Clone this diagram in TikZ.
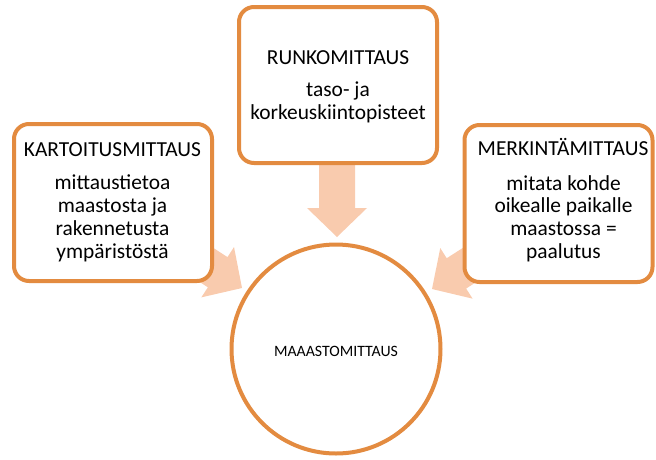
\documentclass[tikz,border=0pt]{standalone}
\usepackage{fontspec}
\setmainfont{Carlito}
\definecolor{boxorange}{HTML}{E38B40}
\definecolor{arrowfill}{HTML}{F9CBAE}
\begin{document}
\begin{tikzpicture}[x=1pt,y=-1pt,
  box/.style={draw=boxorange, line width=4pt, rounded corners=15pt, fill=white, inner sep=0pt},
  hub/.style={circle, draw=boxorange, line width=4pt, fill=white, inner sep=0pt, minimum size=209pt},
  title/.style={font=\fontsize{21.4}{22.8}\selectfont, anchor=base, inner sep=0pt},
  body/.style={font=\fontsize{21.4}{22.8}\selectfont, anchor=base, align=center, inner sep=0pt},
  hubtext/.style={font=\fontsize{15.8}{18}\selectfont, anchor=base, inner sep=0pt},
  blockarrow/.style={fill=arrowfill}
]
\useasboundingbox (0,0) rectangle (656,459);
% block arrows (behind the boxes)
\fill[blockarrow, shift={(242,288)}, rotate=-33]
  (0,0) -- (-29,-30) -- (-29,-18) -- (-80,-18) -- (-80,18) -- (-29,18) -- (-29,30) -- cycle;
\fill[blockarrow, shift={(337,237)}, rotate=-90]
  (0,0) -- (-29,-30) -- (-29,-18) -- (-80,-18) -- (-80,18) -- (-29,18) -- (-29,30) -- cycle;
\fill[blockarrow, shift={(432,289)}, rotate=-147.4]
  (0,0) -- (-29,-30) -- (-29,-18) -- (-80,-18) -- (-80,18) -- (-29,18) -- (-29,30) -- cycle;
% boxes
\node[box, minimum width=198pt, minimum height=156pt] (runko) at (338,85) {};
\node[box, minimum width=198pt, minimum height=157pt] (kartoitus) at (113,202.5) {};
\node[box, minimum width=188pt, minimum height=157pt] (merkinta) at (558.5,203.5) {};
\node[hub] (maasto) at (336,349) {};
% texts (body nodes anchored at the baseline of their last line)
\node[title] (runkoT) at (338,64) {RUNKOMITTAUS};
\node[body] (runkoB) at (338,119) {taso- ja\\korkeuskiintopisteet};
\node[title] (kartT) at (112.5,156) {KARTOITUSMITTAUS};
\node[body] (kartB) at (112.5,258) {mittaustietoa\\maastosta ja\\rakennetusta\\ympäristöstä};
\node[title] (merkT) at (563,155) {MERKINTÄMITTAUS};
\node[body] (merkB) at (563.5,258.5) {mitata kohde\\oikealle paikalle\\maastossa =\\paalutus};
\node[hubtext] (maastoT) at (336,356) {MAAASTOMITTAUS};
\end{tikzpicture}
\end{document}
